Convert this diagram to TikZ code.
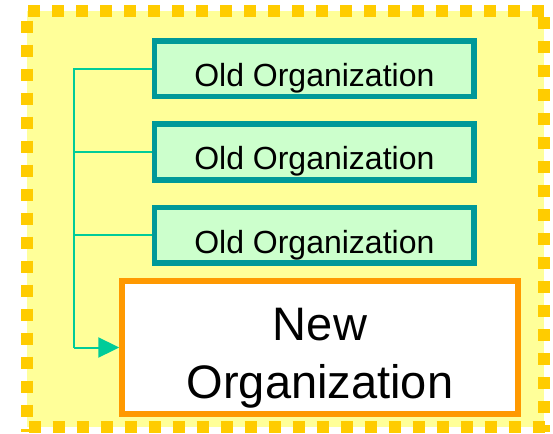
\documentclass[tikz,border=0pt]{standalone}
\usepackage{fontspec}
\setmainfont{Liberation Sans}
\usetikzlibrary{arrows.meta}
\definecolor{bgyellow}{HTML}{FFFF99}
\definecolor{dashgold}{HTML}{FFCC00}
\definecolor{oldfill}{HTML}{CCFFCC}
\definecolor{oldline}{HTML}{009999}
\definecolor{connc}{HTML}{00CC99}
\definecolor{neworange}{HTML}{FF9900}
\tikzset{
  oldbox/.style={draw=oldline, fill=oldfill, line width=5.7pt,
    minimum width=319.6pt, minimum height=55.6pt, inner sep=0pt,
    text height=35.6pt, text depth=0pt,
    font=\fontsize{32}{36}\selectfont},
  newbox/.style={draw=neworange, fill=white, line width=6pt,
    minimum width=395.4pt, minimum height=132.4pt, inner sep=0pt},
  newtext/.style={align=center, inner sep=0pt, anchor=base,
    font=\fontsize{47}{57.6}\selectfont},
  conn/.style={draw=connc, line width=2pt},
  framedash/.style={draw=dashgold, line width=12pt,
    dash pattern=on 12pt off 12pt}
}
\begin{document}
\begin{tikzpicture}[x=1pt,y=-1pt]
\useasboundingbox (0,0) rectangle (553,433);
\fill[bgyellow] (26.7,10.7) rectangle (544,426.5);
\draw[framedash] (28,10.7) -- (548,10.7);
\draw[framedash] (26.7,20.7) -- (26.7,432);
\draw[framedash] (544,17.3) -- (544,432);
\draw[framedash] (28.7,426.5) -- (550,426.5);
\node[oldbox] (o1) at (314.35,68.6) {Old Organization};
\node[oldbox] (o2) at (314.35,151.9) {Old Organization};
\node[oldbox] (o3) at (314.35,235.2) {Old Organization};
\node[newbox] (new) at (320,347.5) {};
\node[newtext] (nt) at (320,398.3) {New\\Organization};
\coordinate (top) at (74.3,68.6);
\coordinate (bot) at (74.3,347.5);
\draw[conn] (o1.west) -- (top) -- (bot);
\draw[conn] (o2.west) -- (o2.west -| top);
\draw[conn] (o3.west) -- (o3.west -| top);
\draw[conn, -{Triangle[length=21pt,width=20pt,fill=connc]}] (bot) -- (new.west);
\end{tikzpicture}
\end{document}
